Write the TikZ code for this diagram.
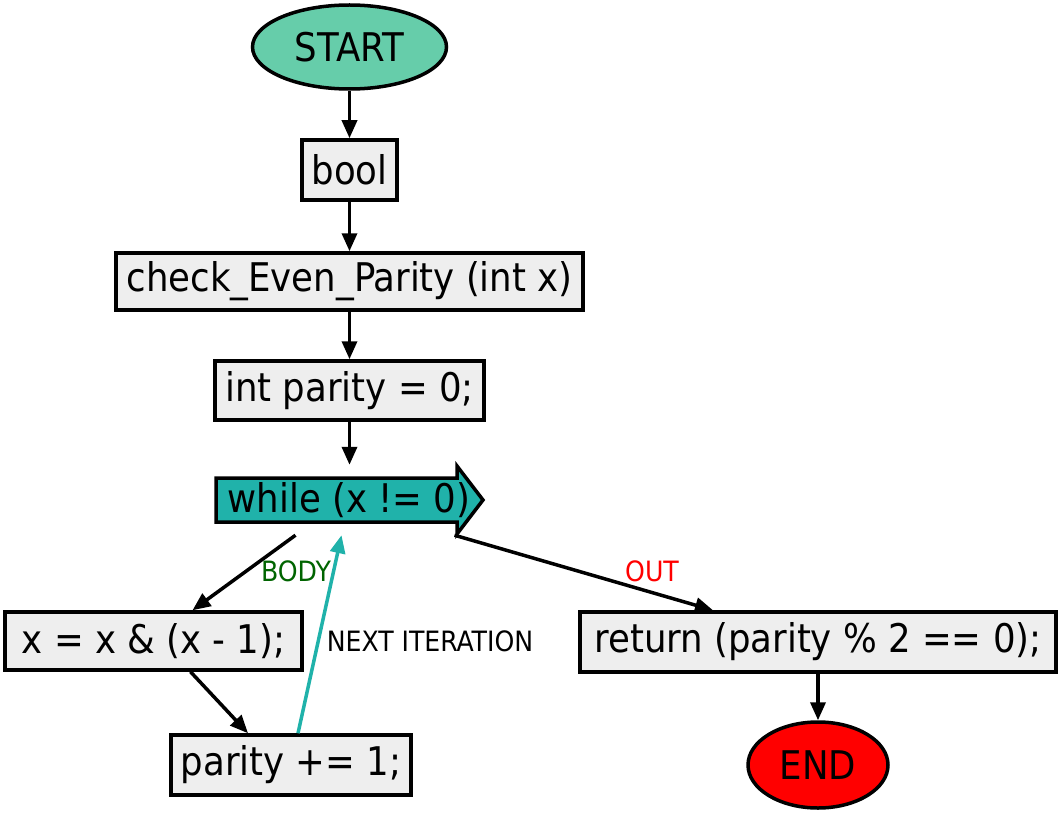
\documentclass[tikz,border=0pt]{standalone}
\usepackage{fontspec}
\setmainfont{DejaVu Sans Condensed}
\usetikzlibrary{arrows.meta,shapes.geometric,calc}
\definecolor{startc}{RGB}{102,205,170}
\definecolor{boxc}{RGB}{238,238,238}
\definecolor{tealc}{RGB}{32,178,170}
\definecolor{bodyc}{RGB}{0,100,0}
\tikzset{
  every picture/.style={x=1pt,y=-1pt},
  stmt/.style={draw=black,line width=3.5pt,fill=boxc,rectangle,inner sep=0pt,font=\fontsize{39.5}{42}\selectfont},
  term/.style={draw=black,line width=3.5pt,ellipse,inner sep=0pt,font=\fontsize{39.5}{42}\selectfont},
  edge/.style={line width=3.5pt,-{Triangle[length=18pt,width=15pt]}},
  lbl/.style={font=\fontsize{28}{30}\selectfont,inner sep=0pt},
}
\begin{document}
\begin{tikzpicture}
\useasboundingbox (0,0) rectangle (1062,813);
\node[term,fill=startc,minimum width=194pt,minimum height=84pt] (start) at (349.5,47) {START};
\node[stmt,minimum width=95pt,minimum height=60pt] (bool) at (349.5,170) {bool};
\node[stmt,minimum width=467pt,minimum height=57pt] (check) at (349.5,281.5) {check\_Even\_Parity (int x)};
\node[stmt,minimum width=269pt,minimum height=59pt] (intp) at (349.5,390.5) {int parity = 0;};
% while arrow shape
\node[minimum width=267pt,minimum height=70pt,inner sep=0pt] (while) at (349.5,500) {};
\draw[line width=3.5pt,fill=tealc,line join=miter]
  (216,478) -- (457,478) -- (457,466) -- (483,500) -- (457,534) -- (457,522) -- (216,522) -- cycle;
\node[font=\fontsize{39.5}{42}\selectfont,inner sep=0pt] (wtxt) at (349,500) {while (x != 0)};
\node[stmt,minimum width=297pt,minimum height=58pt] (xeq) at (153.5,641) {x = x \& (x - 1);};
\node[stmt,minimum width=240pt,minimum height=60pt] (par) at (291,765) {parity += 1;};
\node[stmt,minimum width=476pt,minimum height=60pt] (ret) at (818,642) {return (parity \% 2 == 0);};
\node[term,fill=red,minimum width=140pt,minimum height=86pt] (end) at (818,765) {END};

\draw[edge] (start) -- (bool);
\draw[edge] (bool) -- (check);
\draw[edge] (check) -- (intp);
\draw[edge] (intp) -- (while.north);
\draw[edge] ([xshift=-54pt]while.south) -- ([xshift=39pt]xeq.north);
\node[lbl,text=bodyc] (bl) at (296,571) {BODY};
\draw[edge] ([xshift=37pt]xeq.south) -- ([xshift=-43pt]par.north);
\draw[edge,draw=tealc] ([xshift=7pt]par.north) -- ([xshift=-8pt]while.south);
\node[lbl] (nl) at (430,641) {NEXT ITERATION};
\draw[edge] ([xshift=105pt]while.south) -- ([xshift=-105pt]ret.north);
\node[lbl,text=red] (ol) at (652,571) {OUT};
\draw[edge] (ret) -- (end);
\end{tikzpicture}
\end{document}
